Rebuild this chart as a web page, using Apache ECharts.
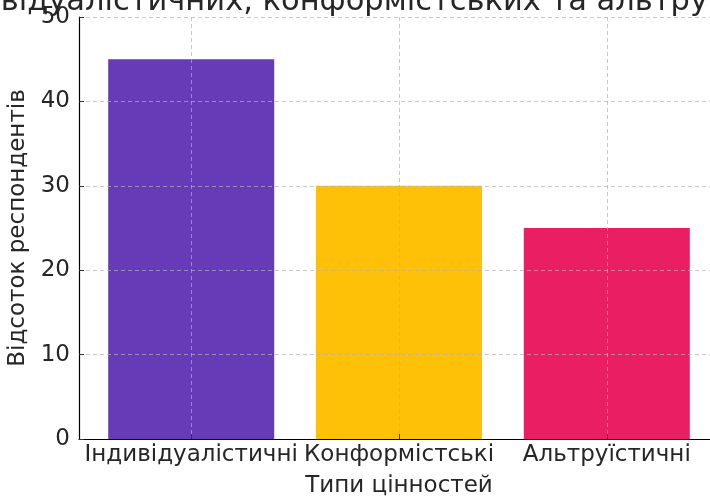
<!DOCTYPE html>
<html>
<head>
<meta charset="utf-8">
<script src="https://cdn.jsdelivr.net/npm/echarts@6/dist/echarts.min.js"></script>
<style>
  html, body { margin: 0; padding: 0; background: #fff; }
  #chart { width: 710px; height: 497px; }
</style>
</head>
<body>
<div id="chart"></div>
<script>
// Value types and share of respondents (%)
const categories = ['Індивідуалістичні', 'Конформістські', 'Альтруїстичні'];
const percentages = [45, 30, 25];
const barColors = ['#673AB7', '#FFC107', '#E91E63'];
const yTicks = [0, 10, 20, 30, 40, 50];

const titleText = 'Розподіл індивідуалістичних, конформістських та альтруїстичних цінностей';
const FONT = 'DejaVu Sans';
const gridColor = 'rgba(176,176,176,0.7)';

const chart = echarts.init(document.getElementById('chart'), null, { renderer: 'canvas' });

const barData = percentages.map((v, i) => ({
  value: [i, v],
  itemStyle: { color: barColors[i] }
}));

chart.setOption({
  animation: false,
  backgroundColor: '#ffffff',
  graphic: [{
    type: 'text',
    x: 399,
    y: 2,
    z: 10,
    style: {
      text: titleText,
      font: '30.5px "DejaVu Sans"',
      fill: '#262626',
      textAlign: 'center',
      textVerticalAlign: 'middle'
    }
  }],
  grid: {
    left: 79, top: 17, width: 640, height: 422,
    containLabel: false,
    outerBoundsMode: 'none'
  },
  xAxis: {
    type: 'value',
    min: -0.54,
    max: 2.54,
    z: 5,
    name: 'Типи цінностей',
    nameLocation: 'middle',
    nameGap: 36,
    nameTextStyle: { fontFamily: FONT, fontSize: 23, color: '#262626' },
    axisLine: { show: true, onZero: false, lineStyle: { color: '#000', width: 1.2 } },
    axisTick: { show: true, inside: true, customValues: [0, 1, 2], length: 5, lineStyle: { color: '#333' } },
    axisLabel: {
      customValues: [0, 1, 2],
      margin: 5,
      fontFamily: FONT, fontSize: 23, color: '#262626',
      formatter: v => categories[Math.round(v)]
    },
    splitLine: { show: true, lineStyle: { color: gridColor, type: [4, 3], width: 1 } }
  },
  yAxis: {
    type: 'value',
    min: 0,
    max: 50,
    interval: 10,
    z: 5,
    name: 'Відсоток респондентів',
    nameLocation: 'middle',
    nameGap: 41,
    nameTextStyle: { fontFamily: FONT, fontSize: 23, color: '#262626' },
    axisLine: { show: true, onZero: false, lineStyle: { color: '#000', width: 1.2 } },
    axisTick: { show: true, inside: true, length: 5, lineStyle: { color: '#333' } },
    axisLabel: {
      margin: 9,
      fontFamily: FONT, fontSize: 23, color: '#262626',
      formatter: v => (yTicks.includes(v) ? String(v) : '')
    },
    splitLine: { show: true, lineStyle: { color: gridColor, type: [4, 3], width: 1 } }
  },
  series: [{
    type: 'bar',
    z: 2,
    barWidth: 166,
    data: barData
  }]
});
</script>
</body>
</html>
